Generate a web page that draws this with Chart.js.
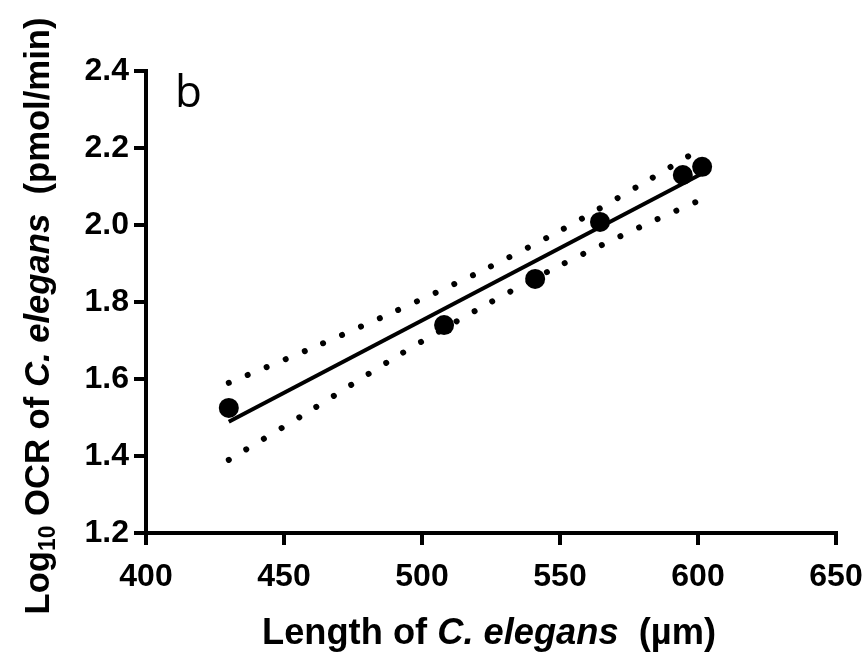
<!DOCTYPE html>
<html>
<head>
<meta charset="utf-8">
<script src="https://cdn.jsdelivr.net/npm/chart.js@4/dist/chart.umd.min.js"></script>
<style>
  html, body { margin: 0; padding: 0; background: #fff; }
  #wrap { width: 867px; height: 657px; position: relative; }
</style>
</head>
<body>
<div id="wrap"><canvas id="c" width="867" height="657"></canvas></div>
<script>
// ---- data ----
const lengthUm = [430, 508, 541, 564.5, 594.5, 601.5];
const logOCR   = [1.525, 1.74, 1.86, 2.008, 2.13, 2.151];

const fitX = [430, 601.5];
const fitY = [1.489, 2.134];

const bandX  = [430, 460, 490, 520, 550, 580, 601.5];
const upperY = [1.59, 1.68, 1.775, 1.875, 1.985, 2.108, 2.20];
const lowerY = [1.39, 1.52, 1.655, 1.78, 1.895, 1.998, 2.067];

const xTicks = [400, 450, 500, 550, 600, 650];
const yTicks = [1.2, 1.4, 1.6, 1.8, 2.0, 2.2, 2.4];

const panelLabel = 'b';
const xTitleParts = [['Length of ', 'n'], ['C. elegans', 'i'], ['  (\u00b5m)', 'n']];
const yTitleParts = [['Log', 'n'], ['10', 's'], [' OCR of ', 'n'], ['C. elegans', 'i'], ['  (pmol/min)', 'n']];

const FAM = '"Liberation Sans", Arial, Helvetica, sans-serif';

function pts(xs, ys) { return xs.map((x, i) => ({ x: x, y: ys[i] })); }

function fontFor(kind, size) {
  if (kind === 'i') return 'italic bold ' + size + 'px ' + FAM;
  if (kind === 's') return 'bold ' + Math.round(size * 0.66) + 'px ' + FAM;
  return 'bold ' + size + 'px ' + FAM;
}

function drawParts(ctx, parts, size, targetWidth) {
  let total = 0;
  const widths = parts.map(p => { ctx.font = fontFor(p[1], size); const w = ctx.measureText(p[0]).width; total += w; return w; });
  const sx = targetWidth ? targetWidth / total : 1;
  ctx.scale(sx, 1);
  let x = -total / 2;
  parts.forEach((p, i) => {
    ctx.font = fontFor(p[1], size);
    const dy = p[1] === 's' ? size * 0.28 : 0;
    ctx.fillText(p[0], x, dy);
    x += widths[i];
  });
}

const titlesPlugin = {
  id: 'titles',
  afterDraw(chart) {
    const ctx = chart.ctx;
    ctx.save();
    ctx.fillStyle = '#000';
    ctx.textBaseline = 'middle';
    ctx.textAlign = 'left';
    // x title
    ctx.save();
    ctx.translate(489, 634);
    drawParts(ctx, xTitleParts, 36, 454);
    ctx.restore();
    // y title
    ctx.save();
    ctx.translate(39, 316);
    ctx.rotate(-Math.PI / 2);
    drawParts(ctx, yTitleParts, 35, 597);
    ctx.restore();
    // panel label
    ctx.font = '44px "Open Sans", "Liberation Sans", sans-serif';
    ctx.textBaseline = 'alphabetic';
    ctx.fillText(panelLabel, 175, 107);
    ctx.restore();
  }
};

const bgPlugin = {
  id: 'bg',
  beforeDraw(chart) {
    const ctx = chart.ctx;
    ctx.save();
    ctx.fillStyle = '#fff';
    ctx.fillRect(0, 0, chart.width, chart.height);
    ctx.restore();
  }
};

new Chart(document.getElementById('c'), {
  type: 'scatter',
  data: {
    datasets: [
      {
        label: 'Upper 95% CI',
        data: pts(bandX, upperY),
        showLine: true,
        borderColor: '#000',
        borderWidth: 6,
        borderDash: [0.01, 20.5],
        borderCapStyle: 'round',
        pointRadius: 0,
        tension: 0.3,
        order: 3
      },
      {
        label: 'Lower 95% CI',
        data: pts(bandX, lowerY),
        showLine: true,
        borderColor: '#000',
        borderWidth: 6,
        borderDash: [0.01, 20.5],
        borderCapStyle: 'round',
        pointRadius: 0,
        tension: 0.3,
        order: 3
      },
      {
        label: 'Fit',
        data: pts(fitX, fitY),
        showLine: true,
        borderColor: '#000',
        borderWidth: 4,
        pointRadius: 0,
        order: 2
      },
      {
        label: 'Data',
        data: pts(lengthUm, logOCR),
        showLine: false,
        pointRadius: 10,
        pointBackgroundColor: '#000',
        pointBorderColor: '#000',
        pointBorderWidth: 0,
        order: 1
      }
    ]
  },
  options: {
    responsive: false,
    animation: false,
    devicePixelRatio: 1,
    layout: { padding: { left: 0, top: 71, right: 31, bottom: 0 } },
    plugins: { legend: { display: false }, tooltip: { enabled: false } },
    scales: {
      x: {
        type: 'linear',
        min: 400, max: 650,
        afterBuildTicks: s => { s.ticks = xTicks.map(v => ({ value: v })); },
        afterFit: s => { s.height = 124; s.paddingLeft = 0; s.paddingRight = 0; },
        border: { display: true, color: '#000', width: 4 },
        grid: { display: true, drawOnChartArea: false, drawTicks: true, tickLength: 12, lineWidth: 4, color: '#000' },
        ticks: { color: '#000', font: { family: FAM, size: 32, weight: 'bold' }, padding: 13, maxRotation: 0, callback: v => String(v) },
        title: { display: false }
      },
      y: {
        type: 'linear',
        min: 1.2, max: 2.4,
        afterBuildTicks: s => { s.ticks = yTicks.map(v => ({ value: v })); },
        afterFit: s => { s.width = 146; s.paddingTop = 0; s.paddingBottom = 0; },
        border: { display: true, color: '#000', width: 4 },
        grid: { display: true, drawOnChartArea: false, drawTicks: true, tickLength: 12, lineWidth: 4, color: '#000' },
        ticks: { color: '#000', font: { family: FAM, size: 32, weight: 'bold' }, padding: 5, callback: v => Number(v).toFixed(1) },
        title: { display: false }
      }
    }
  },
  plugins: [bgPlugin, titlesPlugin]
});
</script>
</body>
</html>
